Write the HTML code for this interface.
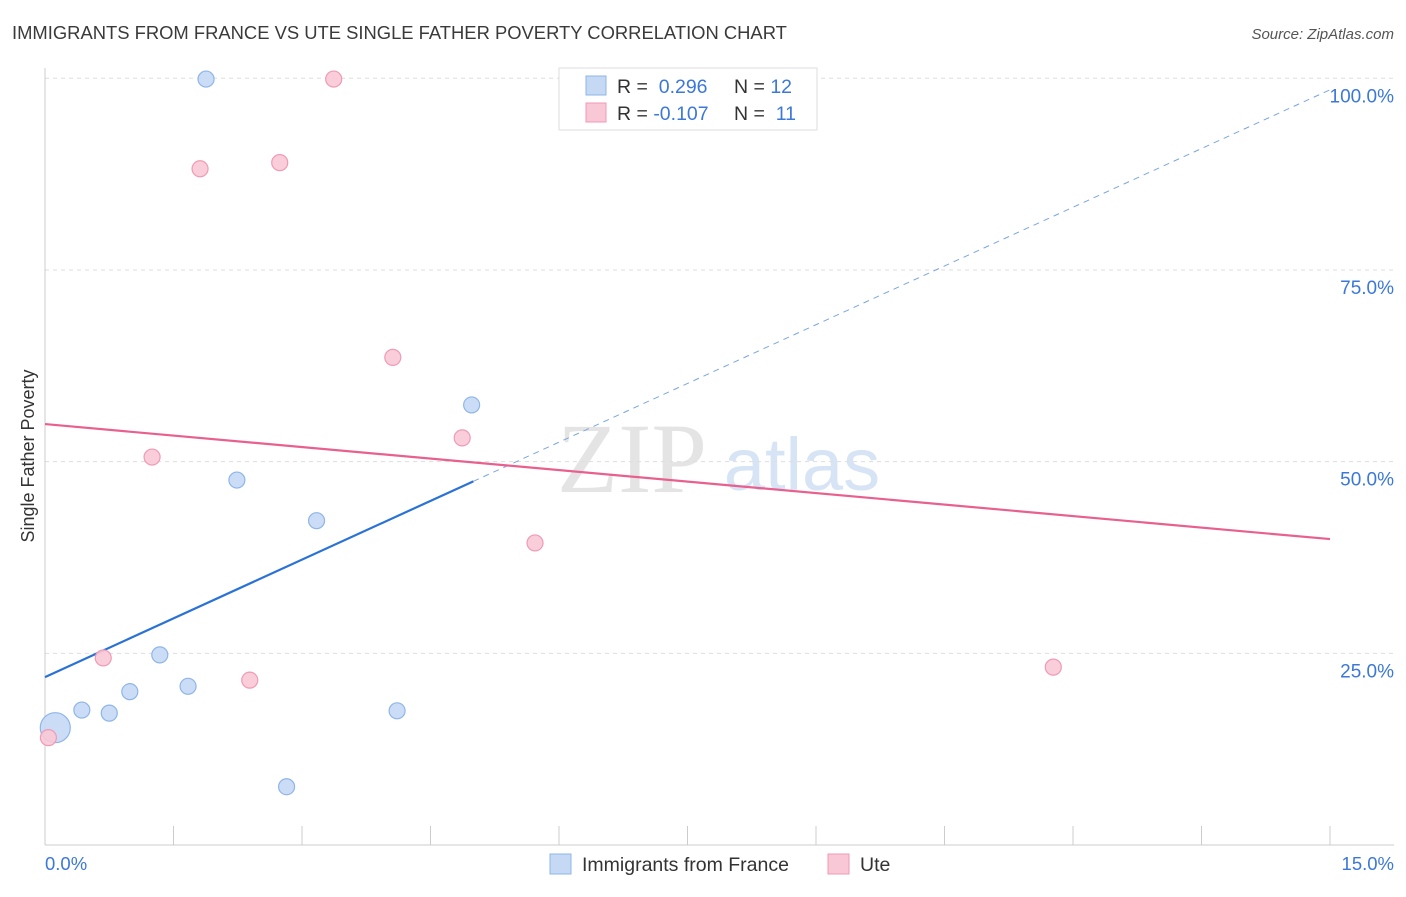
<!DOCTYPE html>
<html><head><meta charset="utf-8"><style>
body{margin:0;background:#fff;font-family:"Liberation Sans",sans-serif;}
</style></head><body>
<svg id="chart" width="1406" height="892" viewBox="0 0 1406 892" xmlns="http://www.w3.org/2000/svg">
<text x="12" y="39" font-size="18.4" fill="#3a3a3a">IMMIGRANTS FROM FRANCE VS UTE SINGLE FATHER POVERTY CORRELATION CHART</text>
<text x="1394" y="39" font-size="15" fill="#555" font-style="italic" text-anchor="end">Source: ZipAtlas.com</text>
<text x="632" y="492" font-size="100" fill="#e4e4e4" font-family="Liberation Serif,serif" text-anchor="middle">ZIP</text>
<text x="802" y="490" font-size="74" fill="#d6e4f5" text-anchor="middle">atlas</text>
<g id="grid"></g><g id="axes"></g><g id="lines"></g><g id="points"></g>
<text transform="translate(34,456) rotate(-90)" font-size="18" fill="#333" text-anchor="middle">Single Father Poverty</text>
<text x="45" y="870" font-size="18.5" fill="#3b78d8">0.0%</text>
<text x="1394" y="870" font-size="18.5" fill="#3b78d8" text-anchor="end">15.0%</text>
<g>
<rect x="559" y="68" width="258" height="62" fill="#fff" stroke="#ddd"/>
<rect x="586" y="76" width="20" height="19" fill="#c5d9f5" stroke="#8fb5e8"/>
<rect x="586" y="103" width="20" height="19" fill="#f9c8d6" stroke="#f09ab5"/>
<text x="617" y="93" font-size="19.5" fill="#333">R = <tspan fill="#3b78d8">&#160;0.296</tspan></text>
<text x="734" y="93" font-size="19.5" fill="#333">N = <tspan fill="#3b78d8">12</tspan></text>
<text x="617" y="120" font-size="19.5" fill="#333">R = <tspan fill="#3b78d8">-0.107</tspan></text>
<text x="734" y="120" font-size="19.5" fill="#333">N = <tspan fill="#3b78d8">&#160;11</tspan></text>
</g>
<g>
<rect x="550" y="854" width="21" height="20" fill="#c5d9f5" stroke="#8fb5e8"/>
<text x="582" y="871" font-size="19.5" fill="#333">Immigrants from France</text>
<rect x="828" y="854" width="21" height="20" fill="#f9c8d6" stroke="#f09ab5"/>
<text x="860" y="871" font-size="19.5" fill="#333">Ute</text>
</g>
</svg>
<script>
const yTicks=[25,50,75,100];
const yTickLabels=["25.0%","50.0%","75.0%","100.0%"];
const xTicks=[0,1.5,3,4.5,6,7.5,9,10.5,12,13.5,15];
const franceX=[0.12,0.43,0.75,0.99,1.34,1.67,1.88,2.24,2.82,3.17,4.11,4.98];
const franceY=[15.3,17.6,17.2,20.0,24.8,20.7,99.9,47.6,7.6,42.3,17.5,57.4];
const franceR=[15,8,8,8,8,8,8,8,8,8,8,8];
const uteX=[0.04,0.68,1.25,1.81,2.39,2.74,3.37,4.06,4.87,5.72,11.77];
const uteY=[14.0,24.4,50.6,88.2,21.5,89.0,99.9,63.6,53.1,39.4,23.2];
const franceTrend=[21.9,98.5];
const franceSolidEnd=5.0;
const uteTrend=[54.9,39.9];
const NS="http://www.w3.org/2000/svg";
const xs=v=>45+v/15*1285;
const ys=v=>845-v/100*766.7;
function mk(tag,attrs,parent){const e=document.createElementNS(NS,tag);for(const k in attrs)e.setAttribute(k,attrs[k]);document.getElementById(parent).appendChild(e);return e;}
yTicks.forEach((t,i)=>{
 const l=mk('line',{x1:45,x2:1394,y1:ys(t),y2:ys(t),stroke:'#ddd','stroke-dasharray':'4,4'},'grid');
 
 
 const tx=mk('text',{x:1394,y:ys(t)+24,'font-size':19,fill:'#3b78d8','text-anchor':'end'},'grid');
 tx.textContent=yTickLabels[i];
 
 
});
let a=mk('line',{x1:45,x2:45,y1:68,y2:845,stroke:'#ccc'},'axes');


a=mk('line',{x1:45,x2:1394,y1:845,y2:845,stroke:'#ccc'},'axes');


xTicks.forEach(t=>{const l=mk('line',{x1:xs(t),x2:xs(t),y1:826,y2:845,stroke:'#ccc'},'axes');
 
 });
const fy=x=>franceTrend[0]+(franceTrend[1]-franceTrend[0])*x/15;
let L=mk('line',{x1:xs(franceSolidEnd),y1:ys(fy(franceSolidEnd)),x2:xs(15),y2:ys(fy(15)),stroke:'#7aa6e0','stroke-dasharray':'6,5','stroke-width':1},'lines');


L=mk('line',{x1:xs(0),y1:ys(fy(0)),x2:xs(franceSolidEnd),y2:ys(fy(franceSolidEnd)),stroke:'#2a72d6','stroke-width':2.2},'lines');


L=mk('line',{x1:xs(0),y1:ys(uteTrend[0]),x2:xs(15),y2:ys(uteTrend[1]),stroke:'#e8608e','stroke-width':2.2},'lines');


franceX.forEach((x,i)=>{const c=mk('circle',{cx:xs(x),cy:ys(franceY[i]),r:franceR[i],fill:'#c5d9f5','fill-opacity':0.9,stroke:'#8fb5e8','stroke-width':1.2},'points');
 
 });
uteX.forEach((x,i)=>{const c=mk('circle',{cx:xs(x),cy:ys(uteY[i]),r:8,fill:'#f9c8d6','fill-opacity':0.9,stroke:'#f09ab5','stroke-width':1.2},'points');
 
 });
</script>
</body></html>
